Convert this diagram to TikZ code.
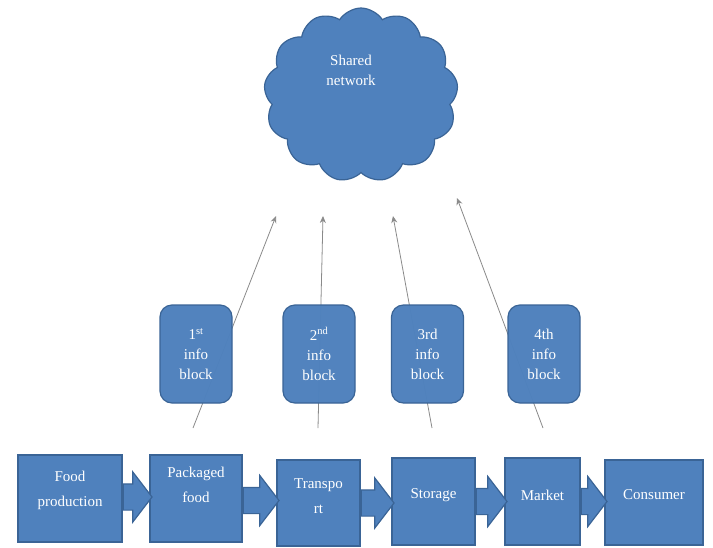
\documentclass[tikz,border=0pt]{standalone}
\usepackage{fontspec}
\setmainfont{Liberation Serif}
\usetikzlibrary{shapes.symbols,shapes.arrows,arrows.meta,calc}

\definecolor{boxblue}{HTML}{4F81BD}
\definecolor{boxedge}{HTML}{3A6496}
\definecolor{linegray}{HTML}{8A8A8A}

\tikzset{
	stage/.style={draw=boxedge, fill=boxblue, line width=1.2pt, inner sep=0pt},
	stagetxt/.style={text=white, align=center, font=\fontsize{15}{25}\selectfont},
	infoblk/.style={stage, fill opacity=0.98, text opacity=1, rounded corners=12pt,
		minimum width=72pt, minimum height=98pt, text=white, align=center,
		font=\fontsize{15}{20}\selectfont},
	flow/.style={single arrow, draw=boxedge, fill=boxblue, line width=1.2pt,
		inner xsep=0pt, inner ysep=12.5pt, single arrow head extend=12pt,
		single arrow tip angle=105, anchor=west},
	upline/.style={draw=linegray, line width=0.8pt, -{Stealth[length=7pt,width=6pt]}}
}

\begin{document}
\begin{tikzpicture}[x=1pt, y=-1pt]

	\useasboundingbox (0,0) rectangle (713,547);

	% cloud at the top
	\node[cloud, cloud puffs=13, cloud puff arc=115, draw=boxedge, fill=boxblue,
		line width=1.2pt, minimum width=194pt, minimum height=174pt] (net) at (361,95) {};
	\node[stagetxt, font=\fontsize{15}{20}\selectfont] (nettxt) at (351,70) {Shared\\network};

	% free ends of the thin lines
	\coordinate (s1) at (193,428);	\coordinate (t1) at (276,216);
	\coordinate (s2) at (318,428);	\coordinate (t2) at (323,216);
	\coordinate (s3) at (432,428);	\coordinate (t3) at (393,216);
	\coordinate (s4) at (543,428);	\coordinate (t4) at (457,198);

	\draw[upline] (s1) -- (t1);
	\draw[upline] (s2) -- (t2);
	\draw[upline] (s3) -- (t3);
	\draw[upline] (s4) -- (t4);

	% info blocks
	\node[infoblk] (info1) at (196,354) {1\textsuperscript{st}\\info\\block};
	\node[infoblk] (info2) at (319,354) {2\textsuperscript{nd}\\info\\block};
	\node[infoblk] (info3) at (427.5,354) {3rd\\info\\block};
	\node[infoblk] (info4) at (544,354) {4th\\info\\block};

	% supply chain
	\node[stage, minimum width=104pt, minimum height=87pt,
		label={[stagetxt, yshift=8.5pt]center:Food\\production}] (food) at (70,498.5) {};
	\node[stage, minimum width=92pt, minimum height=87pt,
		label={[stagetxt, yshift=13.5pt]center:Packaged\\food}] (pack) at (196,498.5) {};
	\node[stage, minimum width=83pt, minimum height=86pt,
		label={[stagetxt, yshift=6.5pt]center:Transpo\\rt}] (trans) at (318.5,503) {};
	\node[stage, minimum width=83pt, minimum height=87pt,
		label={[stagetxt, yshift=6.5pt]center:Storage}] (store) at (433.5,501.5) {};
	\node[stage, minimum width=75pt, minimum height=87pt,
		label={[stagetxt, yshift=6.5pt]center:Market}] (market) at (542.5,501.5) {};
	\node[stage, minimum width=98pt, minimum height=85pt,
		label={[stagetxt, yshift=7.5pt]center:Consumer}] (cons) at (654,502.5) {};

	% block arrows
	\path let \p1=(food.east), \p2=(pack.west) in
		node[flow, minimum height=\x2-\x1+2pt] (f1) at (\x1,\y1+1.5pt) {};
	\path let \p1=(pack.east), \p2=(trans.west) in
		node[flow, minimum height=\x2-\x1+2pt] (f2) at (\x1,\y1-2pt) {};
	\path let \p1=(trans.east), \p2=(store.west) in
		node[flow, minimum height=\x2-\x1+2pt] (f3) at (\x1,\y1) {};
	\path let \p1=(store.east), \p2=(market.west) in
		node[flow, minimum height=\x2-\x1+2pt] (f4) at (\x1,\y1) {};
	\path let \p1=(market.east), \p2=(cons.west) in
		node[flow, minimum height=\x2-\x1+2pt] (f5) at (\x1,\y1) {};

\end{tikzpicture}
\end{document}
